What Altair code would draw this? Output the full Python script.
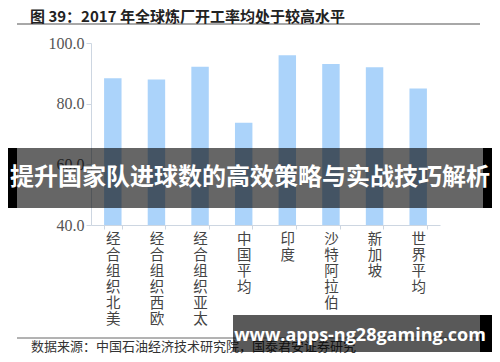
import altair as alt
import pandas as pd

categories = ["经合组织北美", "经合组织西欧", "经合组织亚太", "中国平均",
              "印度", "沙特阿拉伯", "新加坡", "世界平均"]
values = [88.4, 88.0, 92.2, 73.7, 96.0, 93.1, 92.0, 85.0]
y_ticks = [40, 60, 80, 100]
y_floor = 40
title_text = "图 39：2017 年全球炼厂开工率均处于较高水平"
source_text = "数据来源：中国石油经济技术研究院，国泰君安证券研究"
banner_text = "提升国家队进球数的高效策略与实战技巧解析"
site_text = "www.apps-ng28gaming.com"

df = pd.DataFrame({"cat": categories, "val": values})

OX, OY = 91, 43  # plot-area origin in page pixels


def px(x):
    return x - OX


def py(y):
    return y - OY


def one(s):
    return pd.DataFrame({"t": [s]})


AXC = "#cdd6e1"
CJK = "Noto Sans CJK SC"

bars = alt.Chart(df).mark_bar(color="#abd3fa").encode(
    x=alt.X("cat:N", sort=None,
            scale=alt.Scale(paddingInner=0.6, paddingOuter=0.3),
            axis=alt.Axis(title=None, labelAngle=0,
                          labelExpr="split(datum.label, '')",
                          labelBaseline="top", labelLineHeight=16,
                          labelFont=CJK, labelFontSize=14.5, labelColor="#444",
                          labelPadding=3, tickBand="extent", tickSize=4,
                          domainColor=AXC, tickColor=AXC, grid=False)),
    y=alt.Y("val:Q", scale=alt.Scale(domain=[40, 100], nice=False, zero=False),
            axis=alt.Axis(title=None, values=y_ticks, format=".1f",
                          labelFont="Liberation Serif", labelFontSize=16,
                          labelColor="#555", tickSize=5, labelPadding=2,
                          grid=False, domainColor=AXC, tickColor=AXC)),
    y2=alt.datum(y_floor),
)

title_rule = alt.Chart(one("r")).mark_rule(color="#a8a8a8", strokeWidth=2).encode(
    x=alt.value(px(17)), x2=alt.value(px(480)), y=alt.value(py(24)))

title = alt.Chart(one(title_text)).mark_text(
    align="left", baseline="middle", font=CJK, fontSize=15,
    fontWeight="bold", color="#222").encode(
    x=alt.value(px(30)), y=alt.value(py(17)), text="t:N")

foot_rule = alt.Chart(one("r")).mark_rule(color="#666", strokeWidth=1).encode(
    x=alt.value(px(17)), x2=alt.value(px(480)), y=alt.value(py(338)))

foot = alt.Chart(one(source_text)).mark_text(
    align="left", baseline="middle", font=CJK, fontSize=13,
    color="#333").encode(
    x=alt.value(px(31)), y=alt.value(py(347)), text="t:N")

band_mid = alt.Chart(one("b")).mark_rect(color="#000", opacity=0.6).encode(
    x=alt.value(px(17)), x2=alt.value(px(483)),
    y=alt.value(py(148)), y2=alt.value(py(208)))
band_l = alt.Chart(one("b")).mark_rect(color="#000").encode(
    x=alt.value(px(0)), x2=alt.value(px(17)),
    y=alt.value(py(148)), y2=alt.value(py(208)))
band_r = alt.Chart(one("b")).mark_rect(color="#000").encode(
    x=alt.value(px(483)), x2=alt.value(px(500)),
    y=alt.value(py(148)), y2=alt.value(py(208)))
band_text = alt.Chart(one(banner_text)).mark_text(
    align="center", baseline="middle", font=CJK, fontSize=24,
    fontWeight="bold", color="#fff").encode(
    x=alt.value(px(250)), y=alt.value(py(178)), text="t:N")

box = alt.Chart(one("b")).mark_rect(color="#000", opacity=0.65).encode(
    x=alt.value(px(233)), x2=alt.value(px(480)),
    y=alt.value(py(315)), y2=alt.value(py(352)))
box_r = alt.Chart(one("b")).mark_rect(color="#000").encode(
    x=alt.value(px(480)), x2=alt.value(px(492)),
    y=alt.value(py(315)), y2=alt.value(py(352)))
box_text = alt.Chart(one(site_text)).mark_text(
    align="center", baseline="middle", font="Open Sans", fontSize=18,
    fontWeight="bold", color="#fff").encode(
    x=alt.value(px(360)), y=alt.value(py(336)), text="t:N")

chart = alt.layer(
    bars, title_rule, title, foot_rule, foot,
    band_mid, band_l, band_r, band_text,
    box, box_r, box_text,
).properties(
    width=349, height=182,
    autosize=alt.AutoSizeParams(type="none"),
    padding={"left": 83, "top": 35, "right": 52, "bottom": 129},
    background="#ffffff",
).configure_view(stroke=None)

chart.save("out.html", embed_options={"renderer": "svg", "actions": False})
